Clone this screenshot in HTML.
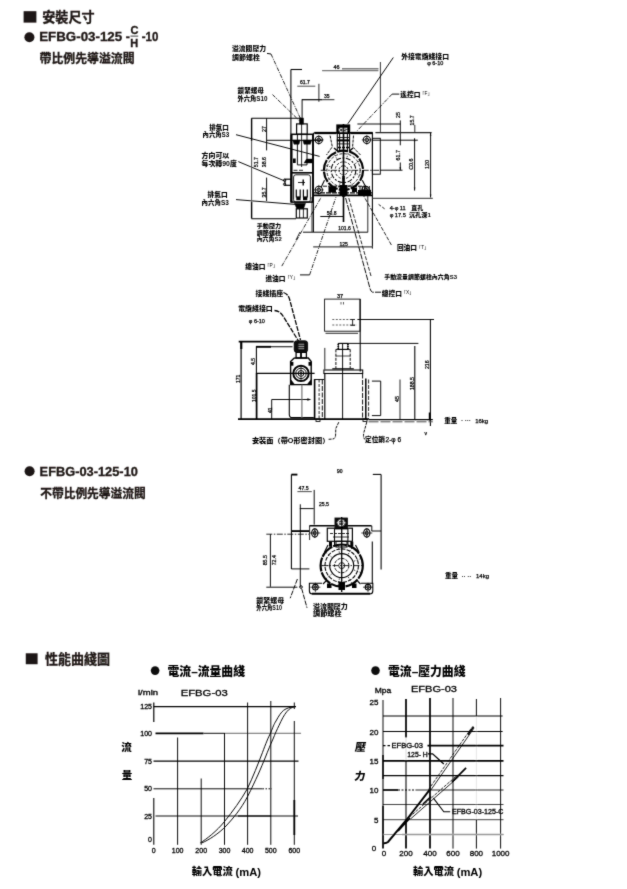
<!DOCTYPE html>
<html lang="zh-Hant"><head><meta charset="utf-8"><title>EFBG-03 安裝尺寸</title>
<style>
html,body{margin:0;padding:0;background:#fff;}
body{width:627px;height:889px;overflow:hidden;position:relative;}
svg{position:absolute;left:0;top:0;display:block;font-family:'Liberation Sans', 'Noto Sans CJK TC', sans-serif;}
</style></head><body>
<svg width="627" height="889" viewBox="0 0 627 889">
<defs><filter id="soft" x="0" y="0" width="627" height="889" filterUnits="userSpaceOnUse"><feConvolveMatrix order="3" kernelMatrix="0.02 0.08 0.02 0.08 0.6 0.08 0.02 0.08 0.02" divisor="1" edgeMode="duplicate" preserveAlpha="false"/></filter></defs>
<rect x="0" y="0" width="627" height="889" fill="#fff"/>
<g filter="url(#soft)">
<rect x="23.6" y="11.2" width="12.799999999999997" height="11.400000000000002" stroke="none" stroke-width="0" fill="#1c1513"/>
<text x="42.3" y="22" font-size="13.2" font-weight="bold" fill="#1c1513" textLength="52.3" lengthAdjust="spacingAndGlyphs" stroke="#1c1513" stroke-width="0.3">安裝尺寸</text>
<circle cx="29.4" cy="37.3" r="5" stroke="none" stroke-width="0" fill="#1c1513"/>
<text x="39.2" y="41.4" font-size="12.4" font-weight="bold" fill="#1c1513" textLength="83" lengthAdjust="spacingAndGlyphs" stroke="#1c1513" stroke-width="0.3">EFBG-03-125</text>
<text x="125.8" y="41.4" font-size="12.4" font-weight="bold" fill="#1c1513" stroke="#1c1513" stroke-width="0.3">-</text>
<text x="130.6" y="33.9" font-size="11" font-weight="bold" fill="#1c1513" stroke="#1c1513" stroke-width="0.3">C</text>
<line x1="130.5" y1="36.1" x2="138.2" y2="36.1" stroke="#1c1513" stroke-width="0.85"/>
<text x="130.3" y="46.6" font-size="11" font-weight="bold" fill="#1c1513" stroke="#1c1513" stroke-width="0.3">H</text>
<text x="141.8" y="41.4" font-size="12.4" font-weight="bold" fill="#1c1513" textLength="16.6" lengthAdjust="spacingAndGlyphs" stroke="#1c1513" stroke-width="0.3">-10</text>
<text x="39.6" y="63" font-size="12" font-weight="bold" fill="#1c1513" textLength="95" lengthAdjust="spacingAndGlyphs" stroke="#1c1513" stroke-width="0.3">帶比例先導溢流閥</text>
<circle cx="29.6" cy="471.2" r="5" stroke="none" stroke-width="0" fill="#1c1513"/>
<text x="39.6" y="475.5" font-size="12.4" font-weight="bold" fill="#1c1513" textLength="98.3" lengthAdjust="spacingAndGlyphs" stroke="#1c1513" stroke-width="0.3">EFBG-03-125-10</text>
<text x="40.2" y="498.3" font-size="12" font-weight="bold" fill="#1c1513" textLength="105.6" lengthAdjust="spacingAndGlyphs" stroke="#1c1513" stroke-width="0.3">不帶比例先導溢流閥</text>
<rect x="25.8" y="653.3" width="11.8" height="10.900000000000091" stroke="none" stroke-width="0" fill="#1c1513"/>
<text x="45" y="664.3" font-size="13.1" font-weight="bold" fill="#1c1513" textLength="65" lengthAdjust="spacingAndGlyphs" stroke="#1c1513" stroke-width="0.3">性能曲綫圖</text>
<circle cx="155.1" cy="670.6" r="4.3" stroke="none" stroke-width="0" fill="#111"/>
<text x="167.5" y="676" font-size="12" font-weight="900" fill="#000" textLength="77.5" lengthAdjust="spacingAndGlyphs">電流–流量曲綫</text>
<text x="138" y="695.3" font-size="7" font-weight="normal" fill="#000" textLength="20" lengthAdjust="spacingAndGlyphs" stroke="#000" stroke-width="0.3">l/min</text>
<text x="180.7" y="695.6" font-size="9" font-weight="normal" fill="#000" textLength="47" lengthAdjust="spacingAndGlyphs" stroke="#000" stroke-width="0.3">EFBG-03</text>
<line x1="153.5" y1="706.6" x2="296" y2="706.6" stroke="#000" stroke-width="1.18"/>
<line x1="155.5" y1="733.3" x2="203.5" y2="733.3" stroke="#000" stroke-width="1.73"/>
<line x1="203.5" y1="733.3" x2="224.5" y2="733.3" stroke="#000" stroke-width="0.96"/>
<line x1="224.5" y1="733.3" x2="301" y2="733.3" stroke="#333" stroke-width="0.74"/>
<line x1="153.5" y1="761.1" x2="298.5" y2="761.1" stroke="#000" stroke-width="1.29"/>
<line x1="153.5" y1="788.8" x2="262.5" y2="788.8" stroke="#000" stroke-width="0.96"/>
<line x1="262.5" y1="788.8" x2="272" y2="788.8" stroke="#000" stroke-width="0.96" stroke-dasharray="1.5 1.5"/>
<line x1="155.5" y1="816" x2="238" y2="816" stroke="#000" stroke-width="0.96"/>
<line x1="238" y1="816" x2="271.5" y2="816" stroke="#000" stroke-width="1.73"/>
<line x1="271.5" y1="816" x2="298" y2="816" stroke="#000" stroke-width="0.96"/>
<line x1="153.8" y1="702.5" x2="153.8" y2="722" stroke="#000" stroke-width="1.18"/>
<line x1="153.8" y1="798" x2="153.8" y2="844.8" stroke="#000" stroke-width="1.07"/>
<line x1="177.6" y1="737.5" x2="177.6" y2="844.8" stroke="#000" stroke-width="0.96"/>
<line x1="201.2" y1="778.5" x2="201.2" y2="844.8" stroke="#000" stroke-width="0.96"/>
<line x1="224.5" y1="733" x2="224.5" y2="844.8" stroke="#000" stroke-width="0.96"/>
<line x1="247.6" y1="702.5" x2="247.6" y2="844.8" stroke="#000" stroke-width="0.96"/>
<line x1="270.8" y1="701" x2="270.8" y2="844.8" stroke="#000" stroke-width="0.96"/>
<line x1="294.3" y1="702.5" x2="294.3" y2="709" stroke="#000" stroke-width="0.96"/>
<line x1="294.3" y1="721" x2="294.3" y2="800" stroke="#000" stroke-width="0.96"/>
<line x1="294.3" y1="800" x2="294.3" y2="835" stroke="#000" stroke-width="1.84"/>
<line x1="294.3" y1="835" x2="294.3" y2="844.8" stroke="#000" stroke-width="0.96"/>
<text x="152" y="709.1" font-size="7" font-weight="normal" fill="#000" text-anchor="end" stroke="#000" stroke-width="0.3">125</text>
<text x="152" y="735.8" font-size="7" font-weight="normal" fill="#000" text-anchor="end" stroke="#000" stroke-width="0.3">100</text>
<text x="152" y="763.6" font-size="7" font-weight="normal" fill="#000" text-anchor="end" stroke="#000" stroke-width="0.3">75</text>
<text x="152" y="791.3" font-size="7" font-weight="normal" fill="#000" text-anchor="end" stroke="#000" stroke-width="0.3">50</text>
<text x="152" y="818.5" font-size="7" font-weight="normal" fill="#000" text-anchor="end" stroke="#000" stroke-width="0.3">25</text>
<text x="152" y="842.0" font-size="7" font-weight="normal" fill="#000" text-anchor="end" stroke="#000" stroke-width="0.3">0</text>
<text x="153.8" y="853" font-size="7" font-weight="normal" fill="#000" text-anchor="middle" stroke="#000" stroke-width="0.3">0</text>
<text x="177.6" y="853" font-size="7" font-weight="normal" fill="#000" text-anchor="middle" stroke="#000" stroke-width="0.3">100</text>
<text x="201.2" y="853" font-size="7" font-weight="normal" fill="#000" text-anchor="middle" stroke="#000" stroke-width="0.3">200</text>
<text x="224.5" y="853" font-size="7" font-weight="normal" fill="#000" text-anchor="middle" stroke="#000" stroke-width="0.3">300</text>
<text x="247.6" y="853" font-size="7" font-weight="normal" fill="#000" text-anchor="middle" stroke="#000" stroke-width="0.3">400</text>
<text x="270.8" y="853" font-size="7" font-weight="normal" fill="#000" text-anchor="middle" stroke="#000" stroke-width="0.3">500</text>
<text x="294.3" y="853" font-size="7" font-weight="normal" fill="#000" text-anchor="middle" stroke="#000" stroke-width="0.3">600</text>
<text x="126.6" y="751.2" font-size="10.5" font-weight="900" fill="#000" text-anchor="middle">流</text>
<text x="126.9" y="779.4" font-size="10.5" font-weight="900" fill="#000" text-anchor="middle">量</text>
<text x="191.8" y="875.3" font-size="10" font-weight="900" fill="#000" textLength="41" lengthAdjust="spacingAndGlyphs">輸入電流</text>
<text x="235.5" y="876" font-size="11" font-weight="bold" fill="#000" textLength="25.5" lengthAdjust="spacingAndGlyphs">(mA)</text>
<path d="M200.3 842.9 C206 839.5 217 831 224.5 821.5 C233 811 241 800 247.3 788.8 C253 777 258 764 262.4 752.7 C266 743 268 738 270.6 733 C273 727 274 724 276 721 C279 715.5 281 712.5 283.6 710.3 C287 708 290 707.2 294.2 706.7" stroke="#000" stroke-width="0.96" fill="none"/>
<path d="M201.8 842.9 C208 840.5 219 833.5 226 826 C233 818.5 241 809 247.3 797 C252 788 255 781 257.9 775 C261 768 263 763 265.5 757 C268 750.5 270.5 744.5 273 739 C275 734 277 729.5 279 725.5 C281.5 720 284 715 286.7 711.8 C289 709 291.5 707.5 294.2 706.7" stroke="#000" stroke-width="0.96" fill="none"/>
<circle cx="375.5" cy="670.6" r="4.3" stroke="none" stroke-width="0" fill="#111"/>
<text x="388" y="676" font-size="12" font-weight="900" fill="#000" textLength="77.5" lengthAdjust="spacingAndGlyphs">電流–壓力曲綫</text>
<text x="374.8" y="692.8" font-size="8" font-weight="normal" fill="#000" textLength="16.5" lengthAdjust="spacingAndGlyphs" stroke="#000" stroke-width="0.3">Mpa</text>
<text x="411" y="691.8" font-size="9" font-weight="normal" fill="#000" textLength="46" lengthAdjust="spacingAndGlyphs" stroke="#000" stroke-width="0.3">EFBG-03</text>
<line x1="383" y1="700" x2="383" y2="755" stroke="#000" stroke-width="0.96"/>
<line x1="383" y1="755" x2="383" y2="779" stroke="#000" stroke-width="1.73"/>
<line x1="383" y1="779" x2="383" y2="806" stroke="#000" stroke-width="1.07"/>
<line x1="383" y1="806" x2="383" y2="848.6" stroke="#000" stroke-width="1.73"/>
<line x1="406" y1="699" x2="406" y2="737.4" stroke="#000" stroke-width="1.73"/>
<line x1="406" y1="737.4" x2="406" y2="761" stroke="#bbb" stroke-width="0.52"/>
<line x1="406" y1="761" x2="406" y2="822" stroke="#000" stroke-width="1.07"/>
<line x1="406" y1="822" x2="406" y2="848.6" stroke="#000" stroke-width="1.73"/>
<line x1="430" y1="698" x2="430" y2="848.6" stroke="#000" stroke-width="1.73"/>
<line x1="453" y1="698" x2="453" y2="848.6" stroke="#000" stroke-width="0.96"/>
<line x1="476.4" y1="699" x2="476.4" y2="716" stroke="#000" stroke-width="0.96"/>
<line x1="476.4" y1="716" x2="476.4" y2="820" stroke="#ccc" stroke-width="0.47"/>
<line x1="476.4" y1="820" x2="476.4" y2="848.6" stroke="#000" stroke-width="0.96"/>
<line x1="500.6" y1="698" x2="500.6" y2="848.6" stroke="#000" stroke-width="0.96"/>
<line x1="383" y1="716" x2="502.6" y2="716" stroke="#000" stroke-width="1.07"/>
<line x1="383" y1="731.5" x2="502.6" y2="731.5" stroke="#000" stroke-width="1.07"/>
<line x1="427.5" y1="745.6" x2="503.5" y2="745.6" stroke="#000" stroke-width="1.73"/>
<line x1="383" y1="745.6" x2="390" y2="745.6" stroke="#000" stroke-width="1.4" stroke-dasharray="2.5 2"/>
<line x1="383" y1="760.8" x2="503.5" y2="760.8" stroke="#000" stroke-width="1.73"/>
<line x1="383" y1="775.6" x2="503.5" y2="775.6" stroke="#000" stroke-width="1.07"/>
<line x1="383" y1="790" x2="398" y2="790" stroke="#000" stroke-width="1.73"/>
<line x1="398" y1="790" x2="416" y2="790" stroke="#000" stroke-width="1.18" stroke-dasharray="2 1.5"/>
<line x1="416" y1="790" x2="503.5" y2="790" stroke="#000" stroke-width="0.85"/>
<line x1="383" y1="804.5" x2="503.5" y2="804.5" stroke="#000" stroke-width="0.74"/>
<line x1="383" y1="819.7" x2="503.5" y2="819.7" stroke="#000" stroke-width="0.74"/>
<line x1="383" y1="834.5" x2="503.5" y2="834.5" stroke="#777" stroke-width="0.74"/>
<line x1="402" y1="834.5" x2="503.5" y2="834.5" stroke="#999" stroke-width="1.51"/>
<text x="378.5" y="704.5" font-size="8" font-weight="normal" fill="#000" text-anchor="end" stroke="#000" stroke-width="0.3">25</text>
<text x="378.5" y="734.5" font-size="8" font-weight="normal" fill="#000" text-anchor="end" stroke="#000" stroke-width="0.3">20</text>
<text x="378.5" y="763.6" font-size="8" font-weight="normal" fill="#000" text-anchor="end" stroke="#000" stroke-width="0.3">15</text>
<text x="378.5" y="792.7" font-size="8" font-weight="normal" fill="#000" text-anchor="end" stroke="#000" stroke-width="0.3">10</text>
<text x="378.5" y="823" font-size="8" font-weight="normal" fill="#000" text-anchor="end" stroke="#000" stroke-width="0.3">5</text>
<text x="376.2" y="851.3" font-size="8" font-weight="normal" fill="#000" text-anchor="end" stroke="#000" stroke-width="0.3">0</text>
<text x="384" y="856" font-size="8" font-weight="normal" fill="#000" text-anchor="middle" stroke="#000" stroke-width="0.3">0</text>
<text x="406" y="856" font-size="8" font-weight="normal" fill="#000" text-anchor="middle" stroke="#000" stroke-width="0.3">200</text>
<text x="430" y="856" font-size="8" font-weight="normal" fill="#000" text-anchor="middle" stroke="#000" stroke-width="0.3">400</text>
<text x="453" y="856" font-size="8" font-weight="normal" fill="#000" text-anchor="middle" stroke="#000" stroke-width="0.3">600</text>
<text x="476.4" y="856" font-size="8" font-weight="normal" fill="#000" text-anchor="middle" stroke="#000" stroke-width="0.3">800</text>
<text x="500.6" y="856" font-size="8" font-weight="normal" fill="#000" text-anchor="middle" stroke="#000" stroke-width="0.3">1000</text>
<g transform="translate(359.8 751.2) skewX(-9)">
<text x="0" y="0" font-size="10.8" font-weight="900" fill="#000" text-anchor="middle">壓</text>
</g>
<g transform="translate(359.4 779.6) skewX(-9)">
<text x="0" y="0" font-size="10.8" font-weight="900" fill="#000" text-anchor="middle">力</text>
</g>
<text x="413" y="875.3" font-size="10" font-weight="900" fill="#000" textLength="41" lengthAdjust="spacingAndGlyphs">輸入電流</text>
<text x="456.7" y="876" font-size="11" font-weight="bold" fill="#000" textLength="25.5" lengthAdjust="spacingAndGlyphs">(mA)</text>
<path d="M383.5 843.2 C385 843.4 386.5 843.2 388 842 L406 820.5 L429.4 790.2" stroke="#000" stroke-width="1.95" fill="none"/>
<line x1="430.3" y1="790.8" x2="474.2" y2="727.8" stroke="#000" stroke-width="0.85"/>
<line x1="428.5" y1="789.6" x2="472.4" y2="726.6" stroke="#000" stroke-width="0.85" stroke-dasharray="3 1.2"/>
<line x1="468" y1="734.8" x2="473.6" y2="726.8" stroke="#000" stroke-width="1.51"/>
<path d="M398 831 L410 818" stroke="#000" stroke-width="1.84" fill="none"/>
<line x1="410.7" y1="818.8" x2="458.7" y2="776.8" stroke="#000" stroke-width="0.85"/>
<line x1="409.3" y1="817.2" x2="457.3" y2="775.2" stroke="#000" stroke-width="0.85" stroke-dasharray="3 1.2"/>
<line x1="452" y1="782" x2="466.1" y2="767.8" stroke="#000" stroke-width="1.73"/>
<line x1="423" y1="804" x2="431" y2="796.5" stroke="#000" stroke-width="1.62"/>
<text x="391.5" y="747.6" font-size="6.8" font-weight="normal" fill="#000" textLength="31.5" lengthAdjust="spacingAndGlyphs" stroke="#000" stroke-width="0.3">EFBG-03</text>
<text x="407.3" y="757" font-size="6.8" font-weight="normal" fill="#000" textLength="20.5" lengthAdjust="spacingAndGlyphs" stroke="#000" stroke-width="0.3">125- H</text>
<path d="M427.8 753.8 L432.6 753.8 L443.8 763.9" stroke="#000" stroke-width="1.29" fill="none"/>
<text x="452" y="814.3" font-size="6.8" font-weight="normal" fill="#000" textLength="51.5" lengthAdjust="spacingAndGlyphs" stroke="#000" stroke-width="0.3">EFBG-03-125-C</text>
<path d="M450.2 811.7 L443.8 811.7 L433.4 798.1" stroke="#000" stroke-width="1.07" fill="none"/>
<text x="232" y="51.3" font-size="6.3" font-weight="900" fill="#000" textLength="34" lengthAdjust="spacingAndGlyphs">溢流閥壓力</text>
<text x="232" y="59.8" font-size="6.3" font-weight="900" fill="#000" textLength="28" lengthAdjust="spacingAndGlyphs">調節螺栓</text>
<path d="M267 53.4 L271 54" stroke="#000" stroke-width="0.96" fill="none"/>
<line x1="271" y1="54" x2="302" y2="122" stroke="#000" stroke-width="0.85" stroke-dasharray="4 1.2 1 1.2"/>
<text x="237.5" y="92.6" font-size="6.3" font-weight="900" fill="#000" textLength="26.5" lengthAdjust="spacingAndGlyphs">鎖緊螺母</text>
<text x="237.5" y="101" font-size="6.3" font-weight="900" fill="#000" textLength="30" lengthAdjust="spacingAndGlyphs">外六角S10</text>
<line x1="272.5" y1="94.6" x2="299.7" y2="121" stroke="#000" stroke-width="0.85" stroke-dasharray="4 1.2 1 1.2"/>
<text x="209.2" y="130" font-size="6.3" font-weight="900" fill="#000" textLength="19.6" lengthAdjust="spacingAndGlyphs">排氣口</text>
<text x="202.6" y="137" font-size="6.3" font-weight="900" fill="#000" textLength="26.7" lengthAdjust="spacingAndGlyphs">內六角S3</text>
<line x1="236" y1="134.7" x2="319.6" y2="156.4" stroke="#000" stroke-width="0.96"/>
<text x="201.6" y="158.2" font-size="6.3" font-weight="900" fill="#000" textLength="27.7" lengthAdjust="spacingAndGlyphs">方向可以</text>
<text x="201.6" y="166" font-size="6.3" font-weight="900" fill="#000" textLength="35.2" lengthAdjust="spacingAndGlyphs">每次轉90度</text>
<line x1="238.3" y1="161.6" x2="284" y2="180.7" stroke="#000" stroke-width="0.96"/>
<text x="207.6" y="197" font-size="6.3" font-weight="900" fill="#000" textLength="20" lengthAdjust="spacingAndGlyphs">排氣口</text>
<text x="201.6" y="204.6" font-size="6.3" font-weight="900" fill="#000" textLength="27.2" lengthAdjust="spacingAndGlyphs">內六角S3</text>
<line x1="236" y1="199.6" x2="298" y2="204.6" stroke="#000" stroke-width="0.96"/>
<text x="256.7" y="228.2" font-size="6" font-weight="900" fill="#000" textLength="24.5" lengthAdjust="spacingAndGlyphs">手動壓力</text>
<text x="256.7" y="234.7" font-size="6" font-weight="900" fill="#000" textLength="24.5" lengthAdjust="spacingAndGlyphs">調節螺栓</text>
<text x="256.7" y="241.3" font-size="6" font-weight="900" fill="#000" textLength="25" lengthAdjust="spacingAndGlyphs">內六角S2</text>
<text x="245.3" y="268.6" font-size="6.5" font-weight="900" fill="#000" textLength="20.1" lengthAdjust="spacingAndGlyphs">總油口</text>
<text x="264.8" y="267.0" font-size="4.8" font-weight="normal" fill="#000">「P」</text>
<text x="265.4" y="281" font-size="6.5" font-weight="900" fill="#000" textLength="20.1" lengthAdjust="spacingAndGlyphs">進油口</text>
<text x="284.9" y="279.4" font-size="4.8" font-weight="normal" fill="#000">「Y」</text>
<text x="255.5" y="295.6" font-size="6.3" font-weight="900" fill="#000" textLength="27.5" lengthAdjust="spacingAndGlyphs">接綫插座</text>
<text x="238.2" y="310.6" font-size="6.3" font-weight="900" fill="#000" textLength="34.5" lengthAdjust="spacingAndGlyphs">電纜綫接口</text>
<text x="248.8" y="323.3" font-size="5.5" font-weight="normal" fill="#000" stroke="#000" stroke-width="0.25">φ 6-10</text>
<text x="401.2" y="59" font-size="6.3" font-weight="900" fill="#000" textLength="47.8" lengthAdjust="spacingAndGlyphs">外接電纜綫接口</text>
<text x="427.2" y="65.3" font-size="5.5" font-weight="normal" fill="#000" stroke="#000" stroke-width="0.25">φ 6-10</text>
<text x="400.3" y="97" font-size="6.5" font-weight="900" fill="#000" textLength="20.1" lengthAdjust="spacingAndGlyphs">遙控口</text>
<text x="419.8" y="95.4" font-size="4.8" font-weight="normal" fill="#000">「F」</text>
<text x="389.7" y="209.6" font-size="5.6" font-weight="normal" fill="#000" stroke="#000" stroke-width="0.25">4-φ 11</text>
<text x="411.2" y="209.6" font-size="5.8" font-weight="900" fill="#000" textLength="12" lengthAdjust="spacingAndGlyphs">直孔</text>
<text x="389.7" y="216.8" font-size="5.6" font-weight="normal" fill="#000" stroke="#000" stroke-width="0.25">φ 17.5</text>
<text x="408.9" y="216.8" font-size="5.8" font-weight="900" fill="#000" textLength="22" lengthAdjust="spacingAndGlyphs">沉孔深1</text>
<line x1="378.6" y1="204.4" x2="385" y2="209.1" stroke="#000" stroke-width="0.85" stroke-dasharray="3 1.5"/>
<text x="396.9" y="250.2" font-size="6.5" font-weight="900" fill="#000" textLength="20.1" lengthAdjust="spacingAndGlyphs">回油口</text>
<text x="416.4" y="248.6" font-size="4.8" font-weight="normal" fill="#000">「T」</text>
<text x="384.2" y="279" font-size="6" font-weight="900" fill="#000" textLength="72.8" lengthAdjust="spacingAndGlyphs">手動流量調節螺栓內六角S3</text>
<text x="381.8" y="295.5" font-size="6.5" font-weight="900" fill="#000" textLength="20.1" lengthAdjust="spacingAndGlyphs">總控口</text>
<text x="401.3" y="293.9" font-size="4.8" font-weight="normal" fill="#000">「X」</text>
<line x1="290.9" y1="69.5" x2="290.9" y2="134" stroke="#000" stroke-width="1.07"/>
<line x1="290.9" y1="69.5" x2="302" y2="69.5" stroke="#000" stroke-width="1.07"/>
<line x1="297.3" y1="86.2" x2="315.3" y2="86.2" stroke="#555" stroke-width="1.07"/>
<text x="300" y="84" font-size="5" font-weight="normal" fill="#000" stroke="#000" stroke-width="0.25">61.7</text>
<line x1="318.9" y1="83.8" x2="318.9" y2="101.8" stroke="#000" stroke-width="0.85"/>
<line x1="301.9" y1="99.7" x2="322.4" y2="99.7" stroke="#000" stroke-width="1.18"/>
<line x1="322.4" y1="99.7" x2="334.4" y2="99.7" stroke="#000" stroke-width="0.85"/>
<text x="323.9" y="98.2" font-size="5" font-weight="normal" fill="#000" stroke="#000" stroke-width="0.25">35</text>
<line x1="302.1" y1="99.4" x2="302.1" y2="122" stroke="#000" stroke-width="0.96"/>
<line x1="322.1" y1="70.6" x2="378.4" y2="70.6" stroke="#777" stroke-width="1.18"/>
<line x1="342" y1="68.9" x2="378.5" y2="68.9" stroke="#000" stroke-width="0.85"/>
<text x="333.5" y="69.3" font-size="5.5" font-weight="normal" fill="#000" stroke="#000" stroke-width="0.25">46</text>
<line x1="380.4" y1="62" x2="380.4" y2="131.9" stroke="#000" stroke-width="0.8"/>
<line x1="393.3" y1="57.5" x2="347.8" y2="123.8" stroke="#000" stroke-width="0.96"/>
<path d="M399.3 94.1 L392.1 94.1" stroke="#000" stroke-width="0.96" fill="none"/>
<line x1="392.1" y1="94.1" x2="357.4" y2="130.5" stroke="#000" stroke-width="0.85" stroke-dasharray="4 1.2 1 1.2"/>
<line x1="357.4" y1="124" x2="400.5" y2="124" stroke="#000" stroke-width="0.96"/>
<text x="399.8" y="118" font-size="5.2" font-weight="normal" fill="#000" transform="rotate(-90 399.8 118)" stroke="#000" stroke-width="0.25">25</text>
<line x1="400.3" y1="120.4" x2="400.3" y2="145.3" stroke="#000" stroke-width="0.96"/>
<line x1="400.3" y1="162.5" x2="400.3" y2="170.2" stroke="#000" stroke-width="0.96"/>
<line x1="380" y1="170.2" x2="402.5" y2="170.2" stroke="#000" stroke-width="0.96"/>
<line x1="372.4" y1="140.2" x2="417.8" y2="140.2" stroke="#000" stroke-width="0.96"/>
<text x="414.4" y="125.5" font-size="5.2" font-weight="normal" fill="#000" transform="rotate(-90 414.4 125.5)" stroke="#000" stroke-width="0.25">15.7</text>
<line x1="414.8" y1="124.9" x2="414.8" y2="131.9" stroke="#000" stroke-width="0.85"/>
<line x1="375.4" y1="132.6" x2="431.6" y2="132.6" stroke="#222" stroke-width="1.18"/>
<line x1="414.6" y1="138.3" x2="414.6" y2="190.6" stroke="#000" stroke-width="0.96"/>
<path d="M414.6 138.3 L415.4 141.3 L413.8 141.3 Z" fill="#000"/>
<path d="M414.6 190.6 L413.8 187.6 L415.4 187.6 Z" fill="#000"/>
<text x="413.4" y="169.8" font-size="5.4" font-weight="normal" fill="#000" transform="rotate(-90 413.4 169.8)" stroke="#000" stroke-width="0.25">C0.6</text>
<line x1="430.6" y1="132.5" x2="430.6" y2="197.6" stroke="#000" stroke-width="0.96"/>
<path d="M430.6 132.7 L431.4 135.7 L429.8 135.7 Z" fill="#000"/>
<path d="M430.6 197.6 L429.8 194.6 L431.4 194.6 Z" fill="#000"/>
<text x="429" y="169" font-size="5.4" font-weight="normal" fill="#000" transform="rotate(-90 429 169)" stroke="#000" stroke-width="0.25">120</text>
<text x="399.6" y="160.5" font-size="5.4" font-weight="normal" fill="#000" transform="rotate(-90 399.6 160.5)" stroke="#000" stroke-width="0.25">61.7</text>
<path d="M400.3 170.2 L399.5 167.2 L401.1 167.2 Z" fill="#000"/>
<line x1="373" y1="198.3" x2="432.8" y2="198.3" stroke="#555" stroke-width="1.18"/>
<line x1="251.6" y1="118.3" x2="251.6" y2="141" stroke="#000" stroke-width="1.4"/>
<line x1="251.6" y1="141" x2="251.6" y2="202" stroke="#555" stroke-width="1.07"/>
<line x1="251.6" y1="202" x2="251.6" y2="218.5" stroke="#000" stroke-width="1.4"/>
<line x1="251.4" y1="118.3" x2="301.4" y2="118.3" stroke="#000" stroke-width="1.07"/>
<line x1="251.4" y1="218.7" x2="296" y2="218.7" stroke="#000" stroke-width="1.07"/>
<line x1="266.6" y1="118.3" x2="266.6" y2="150.4" stroke="#000" stroke-width="0.96"/>
<line x1="266.6" y1="177.6" x2="266.6" y2="201" stroke="#000" stroke-width="0.96"/>
<line x1="266.8" y1="140.3" x2="322" y2="140.3" stroke="#000" stroke-width="0.96"/>
<text x="265.8" y="132" font-size="5.2" font-weight="normal" fill="#000" transform="rotate(-90 265.8 132)" stroke="#000" stroke-width="0.25">27</text>
<text x="258.2" y="167.2" font-size="5.2" font-weight="normal" fill="#000" transform="rotate(-90 258.2 167.2)" stroke="#000" stroke-width="0.25">51.7</text>
<text x="266.4" y="167.2" font-size="5.2" font-weight="normal" fill="#000" transform="rotate(-90 266.4 167.2)" stroke="#000" stroke-width="0.25">38.6</text>
<text x="266.2" y="197.4" font-size="5.2" font-weight="normal" fill="#000" transform="rotate(-90 266.2 197.4)" stroke="#000" stroke-width="0.25">35.7</text>
<rect x="291.2" y="134.3" width="21.600000000000023" height="67.79999999999998" stroke="#000" stroke-width="1.51" fill="none"/>
<line x1="291.4" y1="134.3" x2="291.4" y2="202.1" stroke="#000" stroke-width="2.28"/>
<rect x="296.6" y="123.9" width="10.599999999999966" height="10.400000000000006" stroke="#000" stroke-width="1.18" fill="none"/>
<rect x="299.8" y="118.3" width="3.3999999999999773" height="5.6000000000000085" stroke="#000" stroke-width="0.96" fill="#000"/>
<line x1="301.6" y1="118" x2="301.6" y2="167" stroke="#000" stroke-width="0.85"/>
<path d="M292.6 140 L300.2 140 L299 144.3 L294 144.3 Z" stroke="#000" stroke-width="0.41" fill="#000"/>
<path d="M302.8 140 L311.8 140 L310.4 144.3 L304 144.3 Z" stroke="#000" stroke-width="0.41" fill="#000"/>
<line x1="297.4" y1="134.3" x2="297.4" y2="164.9" stroke="#000" stroke-width="0.96"/>
<line x1="307" y1="134.3" x2="307" y2="164.9" stroke="#000" stroke-width="0.96"/>
<line x1="297.4" y1="164.9" x2="307" y2="164.9" stroke="#000" stroke-width="0.96"/>
<rect x="293" y="158.5" width="2.6999999999999886" height="4.5" stroke="none" stroke-width="0" fill="#000"/>
<path d="M304 163 L306.5 159 L312.3 159 L312.3 163 Z" stroke="#000" stroke-width="0.41" fill="#000"/>
<line x1="291.2" y1="172.8" x2="312.8" y2="172.8" stroke="#000" stroke-width="1.62"/>
<rect x="293.6" y="174.8" width="16.8" height="27.2" rx="2.2" ry="2.2" fill="none" stroke="#000" stroke-width="0.9"/>
<line x1="293.5" y1="170.3" x2="303" y2="170.3" stroke="#000" stroke-width="0.85" stroke-dasharray="4 1.5"/>
<line x1="298" y1="182.5" x2="305" y2="182.5" stroke="#000" stroke-width="0.85"/>
<line x1="303.2" y1="179.5" x2="303.2" y2="185.5" stroke="#000" stroke-width="1.4"/>
<path d="M296.3 189.5 L296.3 197 L300.2 197 L300.2 189.5" stroke="#000" stroke-width="1.18" fill="none"/>
<path d="M303.4 189.5 L303.4 197 L307.3 197 L307.3 189.5" stroke="#000" stroke-width="1.18" fill="none"/>
<rect x="296.3" y="196.8" width="4.300000000000011" height="3.3999999999999773" stroke="none" stroke-width="0" fill="#000"/>
<rect x="303" y="196.8" width="4.300000000000011" height="3.3999999999999773" stroke="none" stroke-width="0" fill="#000"/>
<rect x="285" y="179.2" width="6.199999999999989" height="6.100000000000023" stroke="#000" stroke-width="1.18" fill="none"/>
<circle cx="284.6" cy="180.3" r="1.2" stroke="#000" stroke-width="0.85" fill="none"/>
<circle cx="284.6" cy="184.3" r="1.2" stroke="#000" stroke-width="0.85" fill="none"/>
<path d="M294.4 203.2 L305.6 203.2 L303.6 208.8 L296.8 208.8 Z" stroke="#000" stroke-width="0.41" fill="#000"/>
<rect x="296.3" y="208.8" width="11.0" height="9.199999999999989" stroke="#000" stroke-width="1.18" fill="none"/>
<line x1="299.6" y1="208.8" x2="299.6" y2="218" stroke="#000" stroke-width="0.85"/>
<line x1="303.4" y1="208.8" x2="303.4" y2="218" stroke="#000" stroke-width="0.85"/>
<line x1="314.4" y1="132.8" x2="372.6" y2="132.8" stroke="#000" stroke-width="1.51"/>
<line x1="314.4" y1="133" x2="336" y2="133" stroke="#000" stroke-width="2.28"/>
<line x1="350.5" y1="133" x2="372.6" y2="133" stroke="#000" stroke-width="2.28"/>
<line x1="313.4" y1="132.8" x2="313.4" y2="231.9" stroke="#000" stroke-width="1.07"/>
<line x1="372.4" y1="132.8" x2="372.4" y2="248.6" stroke="#000" stroke-width="1.07"/>
<line x1="313.4" y1="195.3" x2="372.4" y2="195.3" stroke="#000" stroke-width="1.84"/>
<rect x="336.3" y="124.4" width="13.899999999999977" height="9.599999999999994" stroke="none" stroke-width="0" fill="#000"/>
<text x="343.3" y="131.6" font-size="6" font-weight="bold" fill="#fff" text-anchor="middle">OS</text>
<circle cx="318.8" cy="139.9" r="3.6" stroke="#000" stroke-width="1.07" fill="none"/>
<circle cx="318.8" cy="139.9" r="1.8" stroke="#000" stroke-width="0.96" fill="none"/>
<line x1="313.8" y1="139.9" x2="323.8" y2="139.9" stroke="#000" stroke-width="0.63"/>
<line x1="318.8" y1="134.9" x2="318.8" y2="144.9" stroke="#000" stroke-width="0.63"/>
<circle cx="366.8" cy="139.9" r="3.6" stroke="#000" stroke-width="1.07" fill="none"/>
<circle cx="366.8" cy="139.9" r="1.8" stroke="#000" stroke-width="0.96" fill="none"/>
<line x1="361.8" y1="139.9" x2="371.8" y2="139.9" stroke="#000" stroke-width="0.63"/>
<line x1="366.8" y1="134.9" x2="366.8" y2="144.9" stroke="#000" stroke-width="0.63"/>
<circle cx="318.8" cy="189.9" r="3.6" stroke="#000" stroke-width="1.07" fill="none"/>
<circle cx="318.8" cy="189.9" r="1.8" stroke="#000" stroke-width="0.96" fill="none"/>
<line x1="313.8" y1="189.9" x2="323.8" y2="189.9" stroke="#000" stroke-width="0.63"/>
<line x1="318.8" y1="184.9" x2="318.8" y2="194.9" stroke="#000" stroke-width="0.63"/>
<circle cx="365.6" cy="189.9" r="3.6" stroke="#000" stroke-width="1.07" fill="none"/>
<circle cx="365.6" cy="189.9" r="1.8" stroke="#000" stroke-width="0.96" fill="none"/>
<line x1="360.6" y1="189.9" x2="370.6" y2="189.9" stroke="#000" stroke-width="0.63"/>
<line x1="365.6" y1="184.9" x2="365.6" y2="194.9" stroke="#000" stroke-width="0.63"/>
<circle cx="343.5" cy="170.3" r="19.6" stroke="#000" stroke-width="2.17" fill="none" stroke-dasharray="11 1.2"/>
<circle cx="343.5" cy="170.3" r="16.6" stroke="#000" stroke-width="0.85" fill="none" stroke-dasharray="3 1.6"/>
<circle cx="343.5" cy="170.3" r="12.3" stroke="#000" stroke-width="1.07" fill="none" stroke-dasharray="5 1.5 2 1.5"/>
<circle cx="343.5" cy="170.3" r="8.4" stroke="#000" stroke-width="0.85" fill="none" stroke-dasharray="2.5 1.5"/>
<circle cx="343.5" cy="170.3" r="4.5" stroke="#000" stroke-width="0.96" fill="none" stroke-dasharray="2 1"/>
<line x1="356.5" y1="173.8" x2="361.9" y2="175.2" stroke="#000" stroke-width="0.74" stroke-dasharray="1.5 1.5"/>
<line x1="350.2" y1="182.0" x2="353.0" y2="186.8" stroke="#000" stroke-width="0.74" stroke-dasharray="1.5 1.5"/>
<line x1="340.0" y1="183.3" x2="338.6" y2="188.7" stroke="#000" stroke-width="0.74" stroke-dasharray="1.5 1.5"/>
<line x1="331.8" y1="177.1" x2="327.0" y2="179.8" stroke="#000" stroke-width="0.74" stroke-dasharray="1.5 1.5"/>
<line x1="330.5" y1="166.8" x2="325.1" y2="165.4" stroke="#000" stroke-width="0.74" stroke-dasharray="1.5 1.5"/>
<line x1="336.8" y1="158.6" x2="334.0" y2="153.8" stroke="#000" stroke-width="0.74" stroke-dasharray="1.5 1.5"/>
<line x1="347.0" y1="157.3" x2="348.4" y2="151.9" stroke="#000" stroke-width="0.74" stroke-dasharray="1.5 1.5"/>
<line x1="355.2" y1="163.6" x2="360.0" y2="160.8" stroke="#000" stroke-width="0.74" stroke-dasharray="1.5 1.5"/>
<line x1="343.5" y1="124" x2="343.5" y2="222" stroke="#000" stroke-width="1.62"/>
<line x1="343.5" y1="176" x2="343.5" y2="197" stroke="#000" stroke-width="2.5"/>
<line x1="320.7" y1="170.3" x2="380" y2="170.3" stroke="#000" stroke-width="0.85" stroke-dasharray="6 1.5 1.5 1.5"/>
<line x1="337.3" y1="134" x2="337.3" y2="151" stroke="#000" stroke-width="1.07"/>
<line x1="339.6" y1="134" x2="339.6" y2="151" stroke="#000" stroke-width="1.07"/>
<line x1="347.4" y1="134" x2="347.4" y2="151" stroke="#000" stroke-width="1.07"/>
<line x1="349.6" y1="134" x2="349.6" y2="151" stroke="#000" stroke-width="1.07"/>
<line x1="337.3" y1="137.5" x2="349.6" y2="137.5" stroke="#000" stroke-width="0.85"/>
<line x1="337.3" y1="143.9" x2="349.6" y2="143.9" stroke="#000" stroke-width="0.85"/>
<line x1="336.8" y1="140.4" x2="349.8" y2="140.4" stroke="#000" stroke-width="2.06"/>
<line x1="338" y1="147.5" x2="349" y2="147.5" stroke="#000" stroke-width="1.4" stroke-dasharray="3 1"/>
<path d="M330.1 135.6 L332.3 146.8 L326.5 155" stroke="#000" stroke-width="0.96" fill="none" stroke-dasharray="3 1"/>
<path d="M353.5 135.6 L352.6 146.8 L360.5 155" stroke="#000" stroke-width="0.96" fill="none" stroke-dasharray="3 1"/>
<path d="M334 148 L338 151.5" stroke="#000" stroke-width="1.4" fill="none"/>
<path d="M353 148 L349 151.5" stroke="#000" stroke-width="1.4" fill="none"/>
<line x1="324.5" y1="180.3" x2="321" y2="187.5" stroke="#000" stroke-width="1.07"/>
<line x1="362.3" y1="180.3" x2="366" y2="187.5" stroke="#000" stroke-width="1.07"/>
<rect x="372.4" y="138.3" width="7.900000000000034" height="35.89999999999998" stroke="#000" stroke-width="0.96" fill="none"/>
<line x1="323" y1="186.2" x2="364" y2="186.2" stroke="#000" stroke-width="0.96" stroke-dasharray="4 1"/>
<rect x="328.5" y="186.5" width="7.5" height="6.0" stroke="none" stroke-width="0" fill="#000"/>
<rect x="339.5" y="185" width="8.0" height="10.5" stroke="none" stroke-width="0" fill="#000"/>
<rect x="352" y="187.5" width="5" height="4.5" stroke="none" stroke-width="0" fill="#000"/>
<rect x="358" y="190" width="13" height="5.5" stroke="none" stroke-width="0" fill="#000"/>
<line x1="360" y1="186" x2="360" y2="191" stroke="#000" stroke-width="0.96"/>
<line x1="362.3" y1="186" x2="362.3" y2="191" stroke="#000" stroke-width="0.96"/>
<line x1="364.6" y1="186" x2="364.6" y2="191" stroke="#000" stroke-width="0.96"/>
<line x1="367" y1="186" x2="367" y2="191" stroke="#000" stroke-width="0.96"/>
<line x1="369.3" y1="186" x2="369.3" y2="191" stroke="#000" stroke-width="0.96"/>
<line x1="314" y1="192.8" x2="372" y2="192.8" stroke="#000" stroke-width="1.18" stroke-dasharray="5 1"/>
<line x1="320.3" y1="216.5" x2="343.1" y2="216.5" stroke="#000" stroke-width="0.96"/>
<text x="326.8" y="215.3" font-size="5" font-weight="normal" fill="#000" stroke="#000" stroke-width="0.25">50.8</text>
<line x1="303" y1="232.2" x2="367.8" y2="232.2" stroke="#000" stroke-width="0.96"/>
<text x="338.3" y="230" font-size="5" font-weight="normal" fill="#000" stroke="#000" stroke-width="0.25">101.6</text>
<line x1="367.8" y1="196" x2="367.8" y2="232.3" stroke="#000" stroke-width="0.85"/>
<line x1="313.2" y1="246.9" x2="373" y2="246.9" stroke="#444" stroke-width="1.07"/>
<text x="339.5" y="245.5" font-size="5" font-weight="normal" fill="#000" stroke="#000" stroke-width="0.25">125</text>
<line x1="312" y1="197" x2="312" y2="231.9" stroke="#000" stroke-width="0.85"/>
<line x1="391.4" y1="245" x2="363.5" y2="195.6" stroke="#000" stroke-width="0.85" stroke-dasharray="4 1.5"/>
<line x1="371" y1="276" x2="348.3" y2="196.4" stroke="#000" stroke-width="0.85" stroke-dasharray="4 1.5"/>
<path d="M381 292.2 L372.5 292.2 Q370.6 291.5 369.9 288.1 L345.2 196.4" stroke="#000" stroke-width="0.96" fill="none" stroke-dasharray="6 1.2"/>
<path d="M300 274.9 L309.6 274.9" stroke="#000" stroke-width="0.96" fill="none"/>
<line x1="309.6" y1="274.9" x2="336" y2="197" stroke="#000" stroke-width="0.85" stroke-dasharray="4 1.2 1 1.2"/>
<line x1="281.8" y1="266.1" x2="321.2" y2="197.2" stroke="#000" stroke-width="0.85" stroke-dasharray="4 1.2 1 1.2"/>
<line x1="300" y1="232" x2="296" y2="240" stroke="#000" stroke-width="0.85"/>
<line x1="238.7" y1="341.7" x2="293.7" y2="341.7" stroke="#000" stroke-width="1.84"/>
<line x1="241.3" y1="341.7" x2="241.3" y2="349" stroke="#000" stroke-width="2.06"/>
<line x1="241.1" y1="341.7" x2="241.1" y2="419" stroke="#000" stroke-width="1.18"/>
<line x1="256.4" y1="346.8" x2="256.4" y2="373.4" stroke="#000" stroke-width="1.07"/>
<line x1="256.6" y1="373.4" x2="256.6" y2="419" stroke="#000" stroke-width="1.73"/>
<line x1="255.9" y1="346.8" x2="292.5" y2="346.8" stroke="#000" stroke-width="1.07"/>
<line x1="256" y1="346.8" x2="271" y2="346.8" stroke="#000" stroke-width="1.84"/>
<line x1="255.9" y1="373.4" x2="314.6" y2="373.4" stroke="#000" stroke-width="1.07"/>
<text x="255.3" y="365" font-size="5" font-weight="normal" fill="#000" transform="rotate(-90 255.3 365)" stroke="#000" stroke-width="0.25">4.5</text>
<text x="240.4" y="383" font-size="5" font-weight="normal" fill="#000" transform="rotate(-90 240.4 383)" stroke="#000" stroke-width="0.25">171</text>
<text x="255.5" y="402" font-size="5" font-weight="normal" fill="#000" transform="rotate(-90 255.5 402)" stroke="#000" stroke-width="0.25">101.5</text>
<text x="271.5" y="413" font-size="5" font-weight="normal" fill="#000" transform="rotate(-90 271.5 413)" stroke="#000" stroke-width="0.25">41</text>
<line x1="271.7" y1="399.5" x2="309" y2="399.5" stroke="#000" stroke-width="0.96"/>
<path d="M311.3 399.5 L307.3 400.7 L307.3 398.3 Z" fill="#000"/>
<line x1="271.7" y1="399.5" x2="271.7" y2="419" stroke="#000" stroke-width="0.96"/>
<rect x="294.2" y="340.8" width="13.4" height="11.5" rx="2.5" ry="2.5" fill="#111" stroke="#000" stroke-width="0.8"/>
<line x1="298.5" y1="344.3" x2="304" y2="344.3" stroke="#bbb" stroke-width="0.74"/>
<line x1="298.5" y1="346.5" x2="304" y2="346.5" stroke="#bbb" stroke-width="0.74"/>
<line x1="298.5" y1="348.7" x2="304" y2="348.7" stroke="#bbb" stroke-width="0.74"/>
<rect x="296.1" y="352.3" width="10.299999999999955" height="5.699999999999989" stroke="#000" stroke-width="1.29" fill="none"/>
<line x1="301" y1="352.3" x2="301" y2="358" stroke="#000" stroke-width="1.84"/>
<path d="M294.2 358 L308.3 358 L311.2 361.5 L311.2 384.6 L290.6 384.6 L290.6 361.5 L294.2 358" stroke="#000" stroke-width="1.4" fill="none"/>
<rect x="290.2" y="361.9" width="3.1999999999999886" height="3.8000000000000114" stroke="none" stroke-width="0" fill="#000"/>
<rect x="308.5" y="361.9" width="3.1999999999999886" height="3.8000000000000114" stroke="none" stroke-width="0" fill="#000"/>
<circle cx="301" cy="373.4" r="7.7" stroke="#000" stroke-width="1.95" fill="none"/>
<circle cx="301" cy="373.4" r="5.2" stroke="#000" stroke-width="0.96" fill="none"/>
<circle cx="301" cy="373.4" r="2.9" stroke="#000" stroke-width="0.96" fill="none"/>
<circle cx="301" cy="373.4" r="1" stroke="#000" stroke-width="0.74" fill="none"/>
<path d="M290.6 379.5 L294.6 384.6 L290.6 384.6 Z" stroke="#000" stroke-width="0.63" fill="#000"/>
<path d="M311.2 379.5 L307.2 384.6 L311.2 384.6 Z" stroke="#000" stroke-width="0.63" fill="#000"/>
<line x1="301" y1="366" x2="301" y2="381" stroke="#000" stroke-width="0.74"/>
<path d="M289.3 384.8 L289.3 414.5 Q289.3 417.6 292.3 417.6 L313.8 417.6" fill="none" stroke="#000" stroke-width="1.1"/>
<line x1="301.9" y1="384.8" x2="301.9" y2="419" stroke="#666" stroke-width="1.07"/>
<line x1="314.6" y1="379.1" x2="314.6" y2="419" stroke="#000" stroke-width="1.62"/>
<line x1="319.1" y1="379.5" x2="319.1" y2="419" stroke="#000" stroke-width="0.85" stroke-dasharray="3 1.5"/>
<line x1="322.3" y1="379.5" x2="322.3" y2="419" stroke="#000" stroke-width="0.96" stroke-dasharray="5 1.5"/>
<line x1="314.4" y1="379.5" x2="324" y2="379.5" stroke="#000" stroke-width="0.96"/>
<rect x="324.6" y="299.1" width="35.39999999999998" height="32.099999999999966" stroke="#000" stroke-width="0.85" fill="none"/>
<line x1="325.5" y1="333.3" x2="358" y2="333.3" stroke="#000" stroke-width="0.85"/>
<line x1="341" y1="302" x2="341" y2="304.5" stroke="#000" stroke-width="0.63"/>
<line x1="343.5" y1="302" x2="343.5" y2="304.5" stroke="#000" stroke-width="0.63"/>
<text x="337" y="298" font-size="5.5" font-weight="normal" fill="#000" stroke="#000" stroke-width="0.25">37</text>
<line x1="332.3" y1="319.5" x2="351.4" y2="319.5" stroke="#000" stroke-width="0.63" stroke-dasharray="2 1.5"/>
<line x1="332.3" y1="325" x2="357" y2="325" stroke="#000" stroke-width="0.63" stroke-dasharray="2 1.5"/>
<line x1="352.6" y1="319.5" x2="352.6" y2="325.5" stroke="#000" stroke-width="0.85"/>
<line x1="350.5" y1="319.5" x2="355" y2="319.5" stroke="#000" stroke-width="0.85"/>
<line x1="350.5" y1="325.3" x2="355" y2="325.3" stroke="#000" stroke-width="0.85"/>
<line x1="360.2" y1="299.1" x2="360.2" y2="371.6" stroke="#000" stroke-width="1.07"/>
<line x1="357.4" y1="319.5" x2="434" y2="319.5" stroke="#000" stroke-width="0.96"/>
<line x1="430.4" y1="319.5" x2="430.4" y2="426" stroke="#000" stroke-width="1.07"/>
<text x="429.2" y="369" font-size="5.2" font-weight="normal" fill="#000" transform="rotate(-90 429.2 369)" stroke="#000" stroke-width="0.25">216</text>
<line x1="339.5" y1="343.4" x2="418.4" y2="343.4" stroke="#000" stroke-width="0.96"/>
<line x1="414.8" y1="346" x2="414.8" y2="419" stroke="#000" stroke-width="1.07"/>
<text x="414.2" y="390" font-size="5.2" font-weight="normal" fill="#000" transform="rotate(-90 414.2 390)" stroke="#000" stroke-width="0.25">188.5</text>
<line x1="400" y1="379.5" x2="400" y2="419" stroke="#000" stroke-width="0.85"/>
<text x="399.3" y="402" font-size="5.2" font-weight="normal" fill="#000" transform="rotate(-90 399.3 402)" stroke="#000" stroke-width="0.25">45</text>
<rect x="338.3" y="343.4" width="9.599999999999966" height="6.0" stroke="#000" stroke-width="0.96" fill="none"/>
<line x1="338.3" y1="344" x2="338.3" y2="349" stroke="#000" stroke-width="1.62" stroke-dasharray="1 1"/>
<line x1="347.9" y1="344" x2="347.9" y2="349" stroke="#000" stroke-width="1.62" stroke-dasharray="1 1"/>
<line x1="335.9" y1="349.4" x2="335.9" y2="368.5" stroke="#000" stroke-width="0.96" stroke-dasharray="3 1.2"/>
<line x1="350.2" y1="349.4" x2="350.2" y2="368.5" stroke="#000" stroke-width="0.96" stroke-dasharray="3 1.2"/>
<line x1="335.9" y1="349.4" x2="350.2" y2="349.4" stroke="#000" stroke-width="0.96"/>
<line x1="335.9" y1="356" x2="350.2" y2="356" stroke="#000" stroke-width="0.74"/>
<line x1="332.3" y1="368.8" x2="353.8" y2="368.8" stroke="#000" stroke-width="1.18"/>
<rect x="323.9" y="370" width="38.80000000000001" height="3.5" stroke="#000" stroke-width="1.07" fill="none"/>
<line x1="324.8" y1="373.5" x2="324.8" y2="419" stroke="#000" stroke-width="1.18"/>
<line x1="324.8" y1="347.9" x2="324.8" y2="369.5" stroke="#000" stroke-width="0.85"/>
<line x1="362.6" y1="373.5" x2="362.6" y2="419" stroke="#000" stroke-width="0.96" stroke-dasharray="5 1.5"/>
<line x1="342.6" y1="343.4" x2="342.6" y2="419" stroke="#000" stroke-width="0.96"/>
<line x1="365.8" y1="378.4" x2="365.8" y2="419" stroke="#000" stroke-width="1.51"/>
<line x1="368.6" y1="379.5" x2="368.6" y2="419" stroke="#000" stroke-width="0.85" stroke-dasharray="4 1.5"/>
<path d="M371.9 381.1 L380.7 381.1 L380.7 415.6 L371.9 415.6" stroke="#000" stroke-width="0.96" fill="none"/>
<line x1="238" y1="419.1" x2="368.5" y2="419.1" stroke="#000" stroke-width="1.73"/>
<line x1="368.5" y1="419.6" x2="432.8" y2="419.6" stroke="#000" stroke-width="1.07"/>
<line x1="368.5" y1="421.8" x2="432.8" y2="421.8" stroke="#444" stroke-width="0.96" stroke-dasharray="10 2"/>
<line x1="429.6" y1="412.5" x2="429.6" y2="420.5" stroke="#000" stroke-width="1.62"/>
<rect x="316" y="419" width="4" height="2.5" stroke="#000" stroke-width="0.85" fill="none"/>
<rect x="363" y="419" width="4" height="2.5" stroke="#000" stroke-width="0.85" fill="none"/>
<text x="251.9" y="442.6" font-size="6.5" font-weight="900" fill="#000" textLength="77.5" lengthAdjust="spacingAndGlyphs">安裝面（帶O形密封圈）</text>
<path d="M328.6 439.3 L333 439 Q335.4 438.5 335.6 435 L335.8 428.5 L339.2 421.3" stroke="#000" stroke-width="0.96" fill="none" stroke-dasharray="3 1"/>
<text x="365" y="442.3" font-size="6.5" font-weight="900" fill="#000" textLength="20" lengthAdjust="spacingAndGlyphs">定位銷</text>
<text x="385.5" y="442.3" font-size="6.6" font-weight="normal" fill="#000" stroke="#000" stroke-width="0.25">2-φ 6</text>
<path d="M365.5 440 Q362.5 438 364 432 L367 421.3" stroke="#000" stroke-width="0.96" fill="none" stroke-dasharray="3 1"/>
<text x="444.3" y="423.2" font-size="6.5" font-weight="900" fill="#000" textLength="13" lengthAdjust="spacingAndGlyphs">重量</text>
<text x="461" y="422.3" font-size="6" font-weight="normal" fill="#000" stroke="#000" stroke-width="0.25">· ···</text>
<text x="475.2" y="422.8" font-size="6" font-weight="normal" fill="#000" stroke="#000" stroke-width="0.25">16kg</text>
<text x="424.5" y="435" font-size="5" font-weight="normal" fill="#000" stroke="#000" stroke-width="0.25">v</text>
<path d="M283.5 292.5 Q288 294 289.5 299 L300.5 340" stroke="#000" stroke-width="1.29" fill="none" stroke-dasharray="5 1.2"/>
<path d="M274.5 310.5 Q280 311 283 316 L298.5 341" stroke="#000" stroke-width="1.29" fill="none" stroke-dasharray="5 1.2"/>
<line x1="291.4" y1="474.4" x2="291.4" y2="568.9" stroke="#000" stroke-width="1.07"/>
<line x1="291.4" y1="474.6" x2="297.4" y2="474.6" stroke="#000" stroke-width="1.84"/>
<text x="337" y="472.6" font-size="5" font-weight="normal" fill="#000" stroke="#000" stroke-width="0.25">90</text>
<line x1="372.8" y1="474.4" x2="381.1" y2="474.4" stroke="#000" stroke-width="1.07"/>
<line x1="381.1" y1="474.4" x2="381.1" y2="569.5" stroke="#000" stroke-width="1.07"/>
<text x="298.6" y="490.4" font-size="5.2" font-weight="normal" fill="#000" stroke="#000" stroke-width="0.25">47.5</text>
<line x1="297.4" y1="491.6" x2="311.8" y2="491.6" stroke="#555" stroke-width="1.07"/>
<line x1="314.2" y1="489.9" x2="314.2" y2="524.6" stroke="#000" stroke-width="0.96"/>
<text x="318.9" y="506" font-size="5.2" font-weight="normal" fill="#000" stroke="#000" stroke-width="0.25">25.5</text>
<line x1="299.8" y1="508.6" x2="313.7" y2="508.6" stroke="#000" stroke-width="0.96"/>
<line x1="300.3" y1="504.3" x2="300.3" y2="586.8" stroke="#000" stroke-width="0.96"/>
<line x1="291.4" y1="531.1" x2="309.4" y2="531.1" stroke="#000" stroke-width="1.84"/>
<line x1="266.3" y1="534.2" x2="309" y2="534.2" stroke="#000" stroke-width="0.85" stroke-dasharray="6 1.5 1.5 1.5"/>
<line x1="270.4" y1="534.2" x2="270.4" y2="586.8" stroke="#000" stroke-width="0.96"/>
<line x1="266.3" y1="587.2" x2="297.4" y2="587.2" stroke="#000" stroke-width="0.96"/>
<text x="266.6" y="565.3" font-size="5.2" font-weight="normal" fill="#000" transform="rotate(-90 266.6 565.3)" stroke="#000" stroke-width="0.25">85.5</text>
<text x="275.7" y="565.3" font-size="5.2" font-weight="normal" fill="#000" transform="rotate(-90 275.7 565.3)" stroke="#000" stroke-width="0.25">72.4</text>
<line x1="291.4" y1="568.9" x2="309.4" y2="568.9" stroke="#000" stroke-width="0.96"/>
<line x1="309.4" y1="525.8" x2="371.6" y2="525.8" stroke="#000" stroke-width="1.51"/>
<line x1="372.3" y1="541.4" x2="372.3" y2="583.8" stroke="#000" stroke-width="1.07"/>
<line x1="371.8" y1="525.8" x2="371.8" y2="531" stroke="#000" stroke-width="0.96"/>
<line x1="309.6" y1="525.8" x2="309.6" y2="540" stroke="#000" stroke-width="0.85"/>
<ellipse cx="314.8" cy="533" rx="3.1" ry="4.1" stroke="#000" stroke-width="1.18" fill="none"/>
<ellipse cx="314.8" cy="533" rx="1.2" ry="2.2" stroke="#000" stroke-width="1.07" fill="none"/>
<line x1="309.3" y1="533" x2="320.3" y2="533" stroke="#000" stroke-width="0.74"/>
<line x1="314.8" y1="528" x2="314.8" y2="538" stroke="#000" stroke-width="0.63"/>
<ellipse cx="366.8" cy="533" rx="3.1" ry="4.1" stroke="#000" stroke-width="1.18" fill="none"/>
<ellipse cx="366.8" cy="533" rx="1.2" ry="2.2" stroke="#000" stroke-width="1.07" fill="none"/>
<line x1="361.3" y1="533" x2="372.3" y2="533" stroke="#000" stroke-width="0.74"/>
<line x1="366.8" y1="528" x2="366.8" y2="538" stroke="#000" stroke-width="0.63"/>
<line x1="371.6" y1="531" x2="381.1" y2="531" stroke="#000" stroke-width="0.96"/>
<rect x="334.5" y="517.6" width="13.399999999999977" height="11.799999999999955" stroke="none" stroke-width="0" fill="#111"/>
<circle cx="341.2" cy="522.8" r="3" stroke="#fff" stroke-width="0.96" fill="none"/>
<line x1="337" y1="522.8" x2="345.5" y2="522.8" stroke="#fff" stroke-width="0.85"/>
<rect x="327.3" y="528.2" width="25.099999999999966" height="13.099999999999909" stroke="#000" stroke-width="1.18" fill="none"/>
<line x1="330" y1="533.5" x2="350" y2="533.5" stroke="#000" stroke-width="0.85" stroke-dasharray="3 1"/>
<line x1="333" y1="537" x2="349" y2="537" stroke="#000" stroke-width="0.85"/>
<line x1="334.5" y1="529" x2="334.5" y2="545" stroke="#000" stroke-width="1.07"/>
<line x1="347.9" y1="529" x2="347.9" y2="545" stroke="#000" stroke-width="1.07"/>
<rect x="336" y="541.3" width="11" height="5.7000000000000455" stroke="#000" stroke-width="1.07" fill="none"/>
<circle cx="341.7" cy="565.6" r="21.1" stroke="#000" stroke-width="2.17" fill="none" stroke-dasharray="14 1"/>
<circle cx="341.7" cy="565.6" r="16.7" stroke="#000" stroke-width="1.07" fill="none" stroke-dasharray="4 1.2"/>
<circle cx="341.7" cy="565.6" r="12" stroke="#000" stroke-width="1.18" fill="none"/>
<circle cx="341.7" cy="565.6" r="7.2" stroke="#000" stroke-width="0.96" fill="none" stroke-dasharray="3 1.2"/>
<circle cx="341.7" cy="565.6" r="3" stroke="#000" stroke-width="0.85" fill="none"/>
<line x1="353.9" y1="570.0" x2="361.0" y2="572.6" stroke="#000" stroke-width="0.74" stroke-dasharray="1.5 1.5"/>
<line x1="348.2" y1="576.9" x2="351.9" y2="583.4" stroke="#000" stroke-width="0.74" stroke-dasharray="1.5 1.5"/>
<line x1="339.4" y1="578.4" x2="338.1" y2="585.8" stroke="#000" stroke-width="0.74" stroke-dasharray="1.5 1.5"/>
<line x1="331.7" y1="574.0" x2="326.0" y2="578.8" stroke="#000" stroke-width="0.74" stroke-dasharray="1.5 1.5"/>
<line x1="328.7" y1="565.6" x2="321.2" y2="565.6" stroke="#000" stroke-width="0.74" stroke-dasharray="1.5 1.5"/>
<line x1="331.7" y1="557.2" x2="326.0" y2="552.4" stroke="#000" stroke-width="0.74" stroke-dasharray="1.5 1.5"/>
<line x1="339.4" y1="552.8" x2="338.1" y2="545.4" stroke="#000" stroke-width="0.74" stroke-dasharray="1.5 1.5"/>
<line x1="348.2" y1="554.3" x2="351.9" y2="547.8" stroke="#000" stroke-width="0.74" stroke-dasharray="1.5 1.5"/>
<line x1="353.9" y1="561.2" x2="361.0" y2="558.6" stroke="#000" stroke-width="0.74" stroke-dasharray="1.5 1.5"/>
<line x1="341.7" y1="517" x2="341.7" y2="592" stroke="#000" stroke-width="1.29"/>
<line x1="322" y1="565.6" x2="362" y2="565.6" stroke="#000" stroke-width="0.85" stroke-dasharray="6 1.5 1.5 1.5"/>
<line x1="328" y1="545" x2="324.5" y2="552" stroke="#000" stroke-width="1.07"/>
<line x1="355.5" y1="545" x2="359" y2="552" stroke="#000" stroke-width="1.07"/>
<rect x="329" y="541.6" width="3" height="5.100000000000023" stroke="none" stroke-width="0" fill="#000"/>
<rect x="350.3" y="541.6" width="3.0" height="5.100000000000023" stroke="none" stroke-width="0" fill="#000"/>
<line x1="326" y1="581" x2="323" y2="584" stroke="#000" stroke-width="1.07"/>
<line x1="357.5" y1="581" x2="360.5" y2="584" stroke="#000" stroke-width="1.07"/>
<path d="M322 583.2 L309.4 583.2 L309.4 591 Q309.4 594 312.4 594 L369.8 594 Q372.8 594 372.8 591 L372.8 583.2 L361 583.2" fill="none" stroke="#000" stroke-width="1.1"/>
<line x1="312" y1="593.6" x2="370" y2="593.6" stroke="#000" stroke-width="1.84"/>
<circle cx="315.4" cy="587.2" r="2.8" stroke="#000" stroke-width="1.07" fill="none"/>
<circle cx="315.4" cy="587.2" r="1.3" stroke="#000" stroke-width="0.85" fill="none"/>
<line x1="310.4" y1="587.2" x2="320.4" y2="587.2" stroke="#000" stroke-width="0.74"/>
<line x1="315.4" y1="582.7" x2="315.4" y2="592.2" stroke="#000" stroke-width="0.63"/>
<circle cx="368" cy="587.2" r="2.8" stroke="#000" stroke-width="1.07" fill="none"/>
<circle cx="368" cy="587.2" r="1.3" stroke="#000" stroke-width="0.85" fill="none"/>
<line x1="363" y1="587.2" x2="373" y2="587.2" stroke="#000" stroke-width="0.74"/>
<line x1="368" y1="582.7" x2="368" y2="592.2" stroke="#000" stroke-width="0.63"/>
<rect x="327" y="583.5" width="4.5" height="4.5" stroke="none" stroke-width="0" fill="#000"/>
<rect x="338.5" y="582" width="6.5" height="8" stroke="none" stroke-width="0" fill="#000"/>
<rect x="352" y="583.5" width="4.5" height="4.5" stroke="none" stroke-width="0" fill="#000"/>
<circle cx="301" cy="587" r="1.3" stroke="#000" stroke-width="0.96" fill="none"/>
<line x1="297.4" y1="579" x2="290.2" y2="598.2" stroke="#000" stroke-width="0.96" stroke-dasharray="5 1.2"/>
<line x1="301.7" y1="588.6" x2="307" y2="607.8" stroke="#000" stroke-width="0.96" stroke-dasharray="5 1.2"/>
<text x="256.3" y="603.2" font-size="6.3" font-weight="900" fill="#000" textLength="28" lengthAdjust="spacingAndGlyphs">鎖緊螺母</text>
<text x="256.3" y="610.3" font-size="6.3" font-weight="900" fill="#000" textLength="25.6" lengthAdjust="spacingAndGlyphs">外六角S10</text>
<text x="313" y="608.6" font-size="6.3" font-weight="900" fill="#000" textLength="34.7" lengthAdjust="spacingAndGlyphs">溢流閥壓力</text>
<text x="313" y="616.3" font-size="6.3" font-weight="900" fill="#000" textLength="28.7" lengthAdjust="spacingAndGlyphs">調節螺栓</text>
<text x="445" y="578.3" font-size="6.5" font-weight="900" fill="#000" textLength="13" lengthAdjust="spacingAndGlyphs">重量</text>
<text x="461.5" y="577.5" font-size="6" font-weight="normal" fill="#000" stroke="#000" stroke-width="0.25">·· ··</text>
<text x="476" y="578" font-size="6" font-weight="normal" fill="#000" stroke="#000" stroke-width="0.25">14kg</text>
</g>
</svg>
</body></html>
